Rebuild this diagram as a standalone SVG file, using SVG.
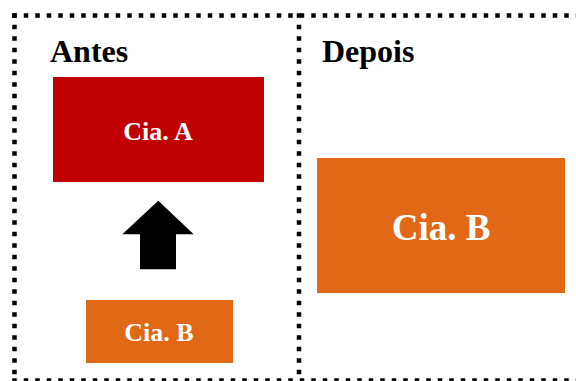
<svg xmlns="http://www.w3.org/2000/svg" width="576" height="381" viewBox="0 0 576 381">
  <style>
    .frame { fill: none; stroke: #000; stroke-width: 4.5; stroke-dasharray: 4.5 7; }
    .head { font-family: "Liberation Serif", "Times New Roman", serif; font-weight: bold; font-size: 32px; fill: #000; }
    .lbl { font-family: "Liberation Serif", "Times New Roman", serif; font-weight: bold; fill: #fff; text-anchor: middle; }
    .red { fill: #C00000; }
    .orange { fill: #E06816; }
  </style>
  <rect width="576" height="381" fill="#fff"/>

  <!-- dotted frame and divider -->
  <g id="frame">
    <line class="frame" x1="12.25" y1="15.5" x2="580" y2="15.5"/>
    <line class="frame" x1="14.5" y1="13.25" x2="14.5" y2="384"/>
    <line class="frame" x1="12.25" y1="380.5" x2="580" y2="380.5"/>
    <line class="frame" x1="299" y1="13.25" x2="299" y2="384"/>
  </g>

  <g id="title-antes"><text class="head" x="50" y="62">Antes</text></g>
  <g id="title-depois"><text class="head" x="322" y="62">Depois</text></g>

  <g id="cia-a">
    <rect class="red" x="53" y="77" width="211" height="105"/>
    <text class="lbl" x="158" y="140" font-size="26">Cia. A</text>
  </g>

  <g id="cia-b-before">
    <rect class="orange" x="86" y="300" width="147" height="63"/>
    <text class="lbl" x="159" y="341" font-size="26">Cia. B</text>
  </g>

  <g id="cia-b-after">
    <rect class="orange" x="317" y="158" width="248" height="135"/>
    <text class="lbl" x="441" y="239.5" font-size="37">Cia. B</text>
  </g>

  <!-- merge arrow -->
  <g id="connectors">
    <polygon points="158.3,200.7 193.7,234.3 176,234.3 176,269.3 140,269.3 140,234.3 122.3,234.3" fill="#000"/>
  </g>
</svg>
